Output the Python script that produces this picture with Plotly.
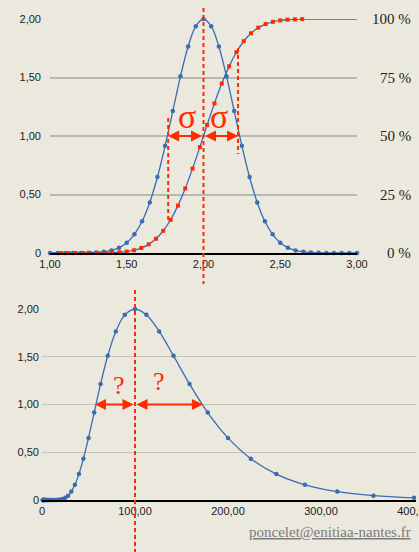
import plotly.graph_objects as go

W, H = 419, 552
RED = "#ff2a00"
BLUE = "#3a6cb4"
BG = "#ebe8de"

# ---------------- data: top chart ----------------
gauss_x = [1.00, 1.05, 1.10, 1.15, 1.20, 1.25, 1.30, 1.35, 1.40, 1.45, 1.50,
           1.55, 1.60, 1.65, 1.70, 1.75, 1.80, 1.85, 1.90, 1.95, 2.00,
           2.05, 2.10, 2.15, 2.20, 2.25, 2.30, 2.35, 2.40, 2.45, 2.50,
           2.55, 2.60, 2.65, 2.70, 2.75, 2.80, 2.85, 2.90, 2.95, 3.00]
gauss_y = [0.0, 0.0, 0.0001, 0.0002, 0.0007, 0.0018, 0.0044, 0.0102, 0.0222, 0.0456, 0.0879,
           0.1593, 0.2707, 0.4324, 0.6493, 0.9157, 1.2131, 1.5098, 1.7650, 1.9385, 2.0,
           1.9385, 1.7650, 1.5098, 1.2131, 0.9157, 0.6493, 0.4324, 0.2707, 0.1593, 0.0879,
           0.0456, 0.0222, 0.0102, 0.0044, 0.0018, 0.0007, 0.0002, 0.0001, 0.0, 0.0]

cdf_x = [1.0714, 1.1190, 1.1667, 1.2143, 1.2619, 1.3095, 1.3571, 1.4048, 1.4524, 1.5000,
         1.5476, 1.5952, 1.6429, 1.6905, 1.7381, 1.7857, 1.8333, 1.8810, 1.9286, 1.9762,
         2.0238, 2.0714, 2.1190, 2.1667, 2.2143, 2.2619, 2.3095, 2.3571, 2.4048, 2.4524,
         2.5000, 2.5476, 2.5952, 2.6429]
cdf_y = [0.0, 0.0, 0.0, 0.0001, 0.0002, 0.0006, 0.0013, 0.0029, 0.0062, 0.0124,
         0.0237, 0.043, 0.074, 0.122, 0.190, 0.284, 0.405, 0.552, 0.721, 0.905,
         1.095, 1.279, 1.448, 1.595, 1.716, 1.810, 1.878, 1.926, 1.957, 1.976,
         1.988, 1.994, 1.997, 1.999]
cdf_start = (1.0, 0.0)
cdf_end = (3.0, 2.0)

top_yticks = [0, 0.5, 1.0, 1.5, 2.0]
top_ytext = ["0", "0,50", "1,00", "1,50", "2,00"]
top_xticks = [1.0, 1.5, 2.0, 2.5, 3.0]
top_xtext = ["1,00", "1,50", "2,00", "2,50", "3,00"]
pct_text = ["0 %", "25 %", "50 %", "75 %", "100 %"]

# ---------------- data: bottom chart ----------------
logn_x = [0.78, 0.87, 0.98, 1.10, 1.24, 1.39, 1.56, 1.75, 1.97, 2.21,
          2.48, 2.78, 3.13, 3.51, 3.94, 4.42, 4.96, 5.57, 6.25, 7.02,
          7.87, 8.84, 9.92, 11.14, 12.50, 14.03, 15.75, 17.68, 19.84, 22.27,
          25.00, 28.06, 31.50, 35.36, 39.69, 44.54, 50.00, 56.12, 63.00, 70.71,
          79.37, 89.09, 100.0, 112.2, 126.0, 141.4, 158.7, 178.2, 200.0, 224.5,
          252.0, 282.8, 317.5, 356.4, 400.0]
logn_y = [0, 0, 0, 0, 0, 0, 0, 0, 0, 0,
          0, 0, 0, 0, 0, 0, 0, 0, 0, 0,
          0, 0, 0, 0, 0.0001, 0.0002, 0.0007, 0.0018, 0.0044, 0.0102,
          0.0223, 0.0457, 0.088, 0.159, 0.271, 0.433, 0.650, 0.916, 1.214, 1.510,
          1.765, 1.939, 2.0, 1.939, 1.765, 1.510, 1.214, 0.916, 0.650, 0.433,
          0.271, 0.159, 0.088, 0.0457, 0.0223]

bot_yticks = [0, 0.5, 1.0, 1.5, 2.0]
bot_ytext = ["0", "0,50", "1,00", "1,50", "2,00"]
bot_xticks = [0, 100, 200, 300, 400]
bot_xtext = ["0", "100,00", "200,00", "300,00", "400,00"]

# ---------------- layout geometry (pixels) ----------------
def pxx(p):
    return p / W

def pxy(p):
    return 1 - p / H

top_dom_x = [pxx(50), pxx(357)]
top_dom_y = [pxy(253), pxy(19)]
bot_dom_x = [pxx(42), pxx(416)]
bot_dom_y = [pxy(500), pxy(309)]
top_rng_x = [1.0, 3.0]
bot_rng_x = [0, 400 * (416 - 42) / (414 - 42)]

def to_paper_x(v, dom, rng):
    return dom[0] + (v - rng[0]) / (rng[1] - rng[0]) * (dom[1] - dom[0])

fig = go.Figure()

fig.add_trace(go.Scatter(
    x=gauss_x, y=gauss_y, xaxis="x", yaxis="y", mode="lines+markers",
    line=dict(color=BLUE, width=1.3, shape="spline"),
    marker=dict(color=BLUE, size=4.5), cliponaxis=False, showlegend=False))

fig.add_trace(go.Scatter(
    x=[cdf_start[0]] + cdf_x + [cdf_end[0]],
    y=[cdf_start[1]] + cdf_y + [cdf_end[1]],
    xaxis="x", yaxis="y", mode="lines",
    line=dict(color=BLUE, width=1.3, shape="spline"),
    cliponaxis=False, showlegend=False))

fig.add_trace(go.Scatter(
    x=cdf_x, y=cdf_y, xaxis="x", yaxis="y", mode="markers",
    marker=dict(color=RED, size=4, symbol="square", line=dict(width=0)),
    cliponaxis=False, showlegend=False))

fig.add_trace(go.Scatter(
    x=logn_x, y=logn_y, xaxis="x2", yaxis="y2", mode="lines+markers",
    line=dict(color=BLUE, width=1.3, shape="spline"),
    marker=dict(color=BLUE, size=4.5), cliponaxis=False, showlegend=False))

tick_font = dict(family="Liberation Sans, Arial, sans-serif", size=11, color="#222")

fig.update_layout(
    width=W, height=H, autosize=False,
    margin=dict(l=0, r=0, t=0, b=0),
    paper_bgcolor=BG, plot_bgcolor="rgba(0,0,0,0)",
    xaxis=dict(domain=top_dom_x, range=top_rng_x, anchor="y",
               tickvals=top_xticks, ticktext=top_xtext, showgrid=False,
               zeroline=False, showline=True, linecolor="#000", linewidth=1.5,
               ticks="", tickfont=tick_font, automargin=False),
    yaxis=dict(domain=top_dom_y, range=[0, 2], anchor="x",
               tickvals=top_yticks, ticktext=top_ytext, showgrid=True,
               gridcolor="#b9b8b3", gridwidth=1.6, zeroline=False, ticks="",
               tickfont=tick_font, ticklabelstandoff=8, automargin=False),
    xaxis2=dict(domain=bot_dom_x, range=bot_rng_x, anchor="y2",
                tickvals=bot_xticks, ticktext=bot_xtext, showgrid=False,
                zeroline=False, showline=True, linecolor="#000", linewidth=1.5,
                ticks="", tickfont=tick_font, automargin=False,
                ticklabeloverflow="allow"),
    yaxis2=dict(domain=bot_dom_y, range=[0, 2], anchor="x2",
                tickvals=bot_yticks, ticktext=bot_ytext, showgrid=True,
                gridcolor="#c4c2bb", gridwidth=1.2, zeroline=False, ticks="",
                tickfont=tick_font, ticklabelstandoff=2, automargin=False),
)

dash = "4px,3px"
shapes = []
xm = to_paper_x(2.0, top_dom_x, top_rng_x)
shapes.append(dict(type="line", xref="paper", yref="paper", x0=xm, x1=xm,
                   y0=pxy(8), y1=pxy(284), line=dict(color=RED, width=2, dash=dash)))
xl = to_paper_x(1.77, top_dom_x, top_rng_x)
shapes.append(dict(type="line", xref="paper", yref="paper", x0=xl, x1=xl,
                   y0=pxy(118), y1=pxy(221), line=dict(color=RED, width=2, dash=dash)))
xr = to_paper_x(2.225, top_dom_x, top_rng_x)
shapes.append(dict(type="line", xref="paper", yref="paper", x0=xr, x1=xr,
                   y0=pxy(48), y1=pxy(154), line=dict(color=RED, width=2, dash=dash)))
xb = to_paper_x(100, bot_dom_x, bot_rng_x)
shapes.append(dict(type="line", xref="paper", yref="paper", x0=xb, x1=xb,
                   y0=pxy(290), y1=0, line=dict(color=RED, width=2, dash=dash)))
fig.update_layout(shapes=shapes)

ann = []
def arrow(x0, x1, y, xr_, yr_):
    return dict(x=x0, y=y, ax=x1, ay=y, xref=xr_, yref=yr_, axref=xr_, ayref=yr_,
                text="", showarrow=True, arrowhead=2, startarrowhead=2,
                arrowside="end+start", arrowsize=1.1, startarrowsize=1.1,
                arrowwidth=2, arrowcolor=RED, standoff=0, startstandoff=0)

ann.append(arrow(1.77, 2.0, 1.0, "x", "y"))
ann.append(arrow(2.225, 2.0, 1.0, "x", "y"))
ann.append(arrow(57, 100, 1.0, "x2", "y2"))
ann.append(arrow(173, 100, 1.0, "x2", "y2"))

serif = "Liberation Serif, DejaVu Serif, serif"
for xs in (1.893, 2.103):
    ann.append(dict(x=xs, y=1.17, xref="x", yref="y", text="σ", showarrow=False,
                    font=dict(family=serif, size=34, color=RED)))
for xs, ys in ((82.8, 1.2), (125.8, 1.24)):
    ann.append(dict(x=xs, y=ys, xref="x2", yref="y2", text="?", showarrow=False,
                    font=dict(family=serif, size=26, color=RED)))

for v, t in zip(top_yticks, pct_text):
    ann.append(dict(x=pxx(413), y=v, xref="paper", yref="y", text=t,
                    xanchor="right", showarrow=False,
                    font=dict(family=serif, size=15, color="#222")))

ann.append(dict(x=pxx(413), y=pxy(542), xref="paper", yref="paper",
                text="<u>poncelet@enitiaa-nantes.fr</u>", xanchor="right",
                showarrow=False, font=dict(family=serif, size=15, color="#7a7a78")))

fig.update_layout(annotations=ann)

fig.write_html("out.html", config={"displayModeBar": False},
               post_script="document.body.style.margin='0';document.body.style.background='%s';" % BG)
